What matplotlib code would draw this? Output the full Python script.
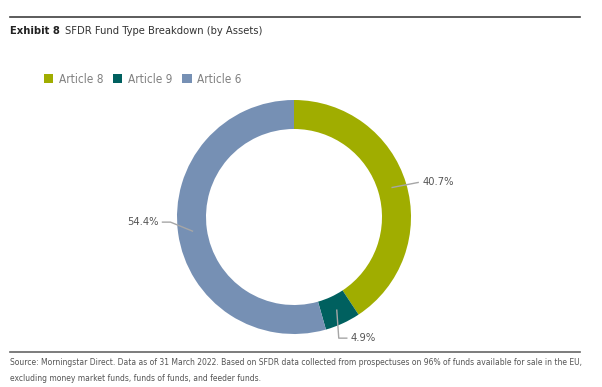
import matplotlib.pyplot as plt
import numpy as np

labels = ['Article 8', 'Article 9', 'Article 6']
shares = [40.7, 4.9, 54.4]
colors = ['#a0ad00', '#00605f', '#7690b4']

title_bold = 'Exhibit 8'
title_rest = 'SFDR Fund Type Breakdown (by Assets)'
source = ('Source: Morningstar Direct. Data as of 31 March 2022. Based on SFDR data collected from prospectuses on 96% of funds available for sale in the EU,\n'
          'excluding money market funds, funds of funds, and feeder funds.')

plt.rcParams['font.family'] = ['DejaVu Sans']
plt.rcParams['font.stretch'] = 'condensed'

W, H = 602, 387
fig = plt.figure(figsize=(W / 100, H / 100), dpi=100)
ax = fig.add_axes([0, 0, 1, 1])
ax.set_xlim(0, W)
ax.set_ylim(0, H)
ax.axis('off')

cx, cy, R, ring = 294, H - 217, 117, 29
wedges, _ = ax.pie(shares, colors=colors, startangle=90, counterclock=False,
                   center=(cx, cy), radius=R,
                   wedgeprops=dict(width=ring, edgecolor='none'))
ax.set_xlim(0, W)
ax.set_ylim(0, H)
ax.set_aspect('equal')

# leader lines from the middle of each ring segment
line_col = '#a6a6a6'
txt_col = '#555555'
rm = R - ring / 2
for w, s in zip(wedges, shares):
    a = np.deg2rad((w.theta1 + w.theta2) / 2)
    x0, y0 = cx + rm * np.cos(a), cy + rm * np.sin(a)
    lab = '%.1f%%' % s
    if np.cos(a) > 0.5:
        ax.plot([x0, x0 + 26], [y0, y0 + 5], color=line_col, lw=1)
        ax.text(x0 + 30, y0 + 5, lab, ha='left', va='center', fontsize=8, color=txt_col)
    elif np.cos(a) < -0.5:
        ax.plot([x0, x0 - 22, x0 - 30], [y0, y0 + 9, y0 + 9], color=line_col, lw=1)
        ax.text(x0 - 34, y0 + 9, lab, ha='right', va='center', fontsize=8, color=txt_col)
    else:
        ax.plot([x0, x0 + 2, x0 + 10], [y0, y0 - 28, y0 - 28], color=line_col, lw=1)
        ax.text(x0 + 14, y0 - 28, lab, ha='left', va='center', fontsize=8, color=txt_col)

# rules
ax.plot([10, 580], [H - 17, H - 17], color='#404040', lw=1.2)
ax.plot([10, 580], [H - 352, H - 352], color='#666666', lw=1.2)

t1 = ax.text(10, H - 31, title_bold, fontsize=8, fontweight='bold', color='#222222', va='center')
fig.canvas.draw()
bb = t1.get_window_extent()
ax.text(bb.x1 + 5, H - 31, title_rest, fontsize=8, color='#333333', va='center')
ax.text(10, H - 370.5, source, fontsize=6.1, color='#555555', va='center', linespacing=2.1)

fig.legend(wedges, labels, loc='upper left', bbox_to_anchor=(33 / W, 1 - 62 / H),
           ncol=3, frameon=False, fontsize=8.5, labelcolor='#808080',
           handlelength=0.8, handleheight=0.8, handletextpad=0.5, columnspacing=0.8)

fig.savefig('out.png', dpi=100)
